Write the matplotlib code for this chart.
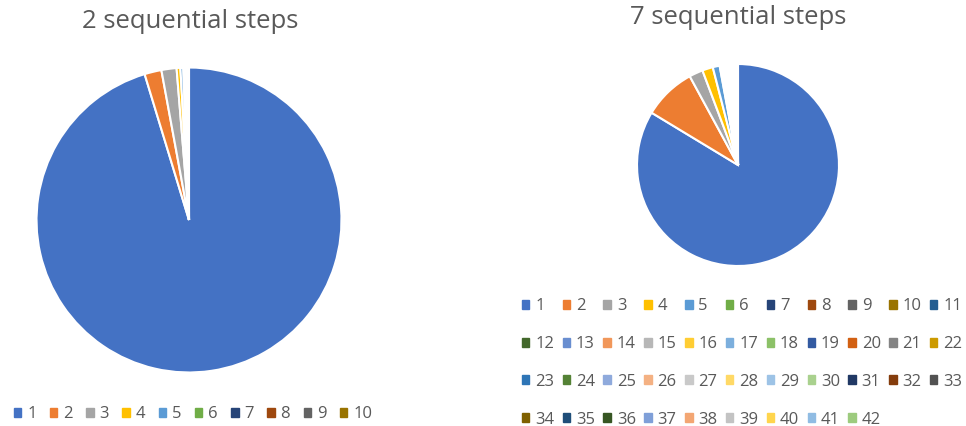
import matplotlib.pyplot as plt
from matplotlib.patches import Patch

plt.rcParams['font.family'] = ['Open Sans', 'DejaVu Sans']

# shares of each step count (percent)
labels_2 = [str(i) for i in range(1, 11)]
vals_2 = [95.3, 1.8, 1.6, 0.4, 0.3, 0.2, 0.15, 0.1, 0.1, 0.05]

labels_7 = [str(i) for i in range(1, 43)]
vals_7 = [83.5, 8.4, 2.2, 1.7, 1.1,
          0.15, 0.12, 0.12, 0.1, 0.1, 0.1, 0.1, 0.1, 0.1, 0.1, 0.1,
          0.1, 0.1, 0.08, 0.08, 0.08, 0.08, 0.08, 0.08, 0.08, 0.08,
          0.06, 0.06, 0.06, 0.06, 0.06, 0.06, 0.06, 0.06, 0.05, 0.05,
          0.05, 0.05, 0.05, 0.05, 0.05, 0.05]

# office style palette
colors = ['#4472C4', '#ED7D31', '#A5A5A5', '#FFC000', '#5B9BD5', '#70AD47',
          '#264478', '#9E480E', '#636363', '#997300', '#255E91', '#43682B',
          '#698ED0', '#F1975A', '#B7B7B7', '#FFCD33', '#7CAFDD', '#8CC168',
          '#335AA1', '#D26012', '#848484', '#CC9A00', '#2E75B6', '#548235',
          '#8FAADC', '#F4B183', '#C9C9C9', '#FFD966', '#9DC3E6', '#A9D18E',
          '#203864', '#843C0C', '#525252', '#7F6000', '#1F4E79', '#375623',
          '#7F9FD8', '#F3A673', '#C3C3C3', '#FFD54D', '#90BCE3', '#9DCB7E']

W, H = 966, 426
fig = plt.figure(figsize=(W / 100, H / 100), dpi=100)
txt = '#595959'


def pie_axes(cx, cy, r):
    return fig.add_axes([(cx - r) / W, (H - cy - r) / H, 2 * r / W, 2 * r / H])


def draw_pie(ax, vals):
    ax.pie(vals, colors=colors[:len(vals)], startangle=90, counterclock=False,
           wedgeprops=dict(edgecolor='white', linewidth=1.5))
    ax.set_xlim(-1.01, 1.01)
    ax.set_ylim(-1.01, 1.01)


ax1 = pie_axes(189, 220, 154)
draw_pie(ax1, vals_2)
ax2 = pie_axes(738, 165, 102)
draw_pie(ax2, vals_7)

fig.text(190 / W, 1 - 22 / H, '2 sequential steps', ha='center', va='center',
         fontsize=18.5, color=txt)
fig.text(738 / W, 1 - 18 / H, '7 sequential steps', ha='center', va='center',
         fontsize=18.5, color=txt)

legkw = dict(frameon=False, fontsize=12, labelcolor=txt, handlelength=0.45,
             handleheight=0.45, handletextpad=0.35, borderpad=0, borderaxespad=0)

h1 = [Patch(color=colors[i]) for i in range(len(labels_2))]
fig.legend(h1, labels_2, loc='center', bbox_to_anchor=(193 / W, 1 - 414 / H),
           ncol=10, columnspacing=0.8, **legkw)

# reorder so that the legend reads row by row
order = []
for j in range(11):
    for r in range(4):
        k = r * 11 + j
        if k < len(labels_7):
            order.append(k)
h2 = [Patch(color=colors[k]) for k in order]
l2 = [labels_7[k] for k in order]
fig.legend(h2, l2, loc='center', bbox_to_anchor=(742 / W, 1 - 363 / H),
           ncol=11, columnspacing=0.5, labelspacing=1.3, **legkw)

fig.savefig('out.png', dpi=100)
